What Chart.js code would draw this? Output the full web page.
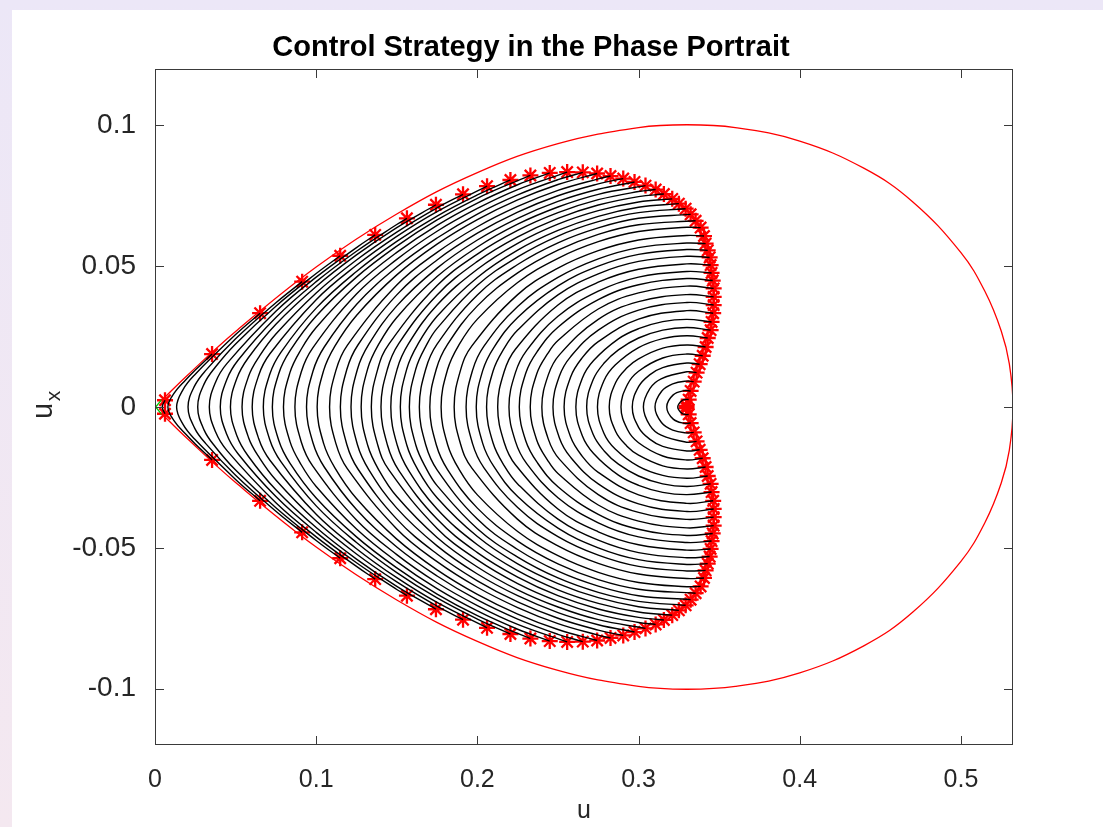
<!DOCTYPE html>
<html>
<head>
<meta charset="utf-8">
<script src="https://cdn.jsdelivr.net/npm/chart.js@4.4.0/dist/chart.umd.min.js"></script>
<style>
  html, body { margin: 0; padding: 0; }
  body { width: 1103px; height: 827px; overflow: hidden; background: linear-gradient(#ece7f7, #f4e8f0); }
  #sheet { position: absolute; left: 12px; top: 10px; width: 1091px; height: 817px; background: #fff; }
  #wrap { position: absolute; left: 0; top: 0; width: 1103px; height: 827px; }
</style>
</head>
<body>
<div id="sheet"></div>
<div id="wrap"><canvas id="phaseChart" width="1103" height="827"></canvas></div>
<script>
// axis ticks
const xTicks = [0, 0.1, 0.2, 0.3, 0.4, 0.5];
const xTickLabels = ['0', '0.1', '0.2', '0.3', '0.4', '0.5'];
const yTicks = [-0.1, -0.05, 0, 0.05, 0.1];
const yTickLabels = ['-0.1', '-0.05', '0', '0.05', '0.1'];

// outer orbit (upper half), u and u_x
const outerU  = [0.004, 0.02, 0.05, 0.1, 0.15, 0.2, 0.25, 0.3, 0.33, 0.36, 0.4, 0.44, 0.47, 0.5, 0.515, 0.525, 0.53, 0.5323];
const outerUx = [0.0023, 0.0112, 0.0268, 0.0497, 0.0685, 0.0832, 0.0935, 0.0992, 0.1002, 0.0992, 0.0944, 0.0847, 0.0729, 0.0548, 0.0409, 0.027, 0.0154, 0];

// switching points (upper half); orbit k ends at point k
const switchU  = [0.0062, 0.0354, 0.0652, 0.0913, 0.1149, 0.1366, 0.1563, 0.1743, 0.1911, 0.2060,
                  0.2205, 0.2329, 0.2449, 0.2557, 0.2654, 0.2743, 0.2826, 0.2905, 0.2975, 0.3043,
                  0.3106, 0.3157, 0.3209, 0.3250, 0.3292, 0.3323, 0.3354, 0.3385, 0.3406, 0.3416,
                  0.3429, 0.3441, 0.3447, 0.3453, 0.3460, 0.3466, 0.3466, 0.3466, 0.3463, 0.3453,
                  0.3447, 0.3429, 0.3416, 0.3398, 0.3379, 0.3360, 0.3342, 0.3323, 0.3311, 0.3298];
const switchUx = [0.0024, 0.0188, 0.0333, 0.0445, 0.0537, 0.0611, 0.0670, 0.0718, 0.0755, 0.0784,
                  0.0806, 0.0822, 0.0831, 0.0834, 0.0833, 0.0829, 0.0820, 0.0811, 0.0799, 0.0786,
                  0.0772, 0.0756, 0.0739, 0.0722, 0.0704, 0.0684, 0.0661, 0.0637, 0.0607, 0.0580,
                  0.0556, 0.0531, 0.0504, 0.0476, 0.0449, 0.0421, 0.0391, 0.0362, 0.0333, 0.0302,
                  0.0273, 0.0245, 0.0213, 0.0182, 0.0152, 0.0122, 0.0090, 0.0057, 0.0026, 0.0004];

// where each orbit crosses u_x = 0 on the left
const arcTipU = [0.0045, 0.0080, 0.0134, 0.0205, 0.0265, 0.0337, 0.0405, 0.0468, 0.0540, 0.0603,
                 0.0672, 0.0728, 0.0797, 0.0868, 0.0940, 0.1006, 0.1083, 0.1150, 0.1216, 0.1279,
                 0.1342, 0.1402, 0.1463, 0.1522, 0.1578, 0.1640, 0.1705, 0.1775, 0.1856, 0.1930,
                 0.1993, 0.2057, 0.2126, 0.2196, 0.2260, 0.2328, 0.2400, 0.2469, 0.2538, 0.2611,
                 0.2678, 0.2745, 0.2818, 0.2891, 0.2961, 0.3030, 0.3102, 0.3175, 0.3243];

// upper points [u, u_x] of each orbit between its tip and its switching point
const arcCrossings = [
  [],
  [[0.012, 0.0050], [0.019, 0.0096], [0.025, 0.0131]],
  [[0.0174, 0.0062], [0.0244, 0.0113], [0.05, 0.0257]],
  [[0.0245, 0.0074], [0.0315, 0.0130], [0.05, 0.0242], [0.075, 0.0370]],
  [[0.0305, 0.0082], [0.0375, 0.0142], [0.05, 0.0224], [0.075, 0.0358], [0.1, 0.0474]],
  [[0.0377, 0.0090], [0.0447, 0.0155], [0.075, 0.0340], [0.1, 0.0461], [0.125, 0.0566]],
  [[0.0445, 0.0097], [0.0515, 0.0166], [0.075, 0.0318], [0.1, 0.0445], [0.125, 0.0553], [0.15, 0.0648]],
  [[0.0508, 0.0102], [0.0578, 0.0174], [0.075, 0.0294], [0.1, 0.0428], [0.125, 0.0540], [0.15, 0.0637]],
  [[0.058, 0.0108], [0.065, 0.0182], [0.075, 0.0259], [0.1, 0.0405], [0.125, 0.0522], [0.15, 0.0621], [0.175, 0.0707]],
  [[0.0643, 0.0112], [0.0713, 0.0189], [0.1, 0.0381], [0.125, 0.0503], [0.15, 0.0606], [0.175, 0.0694]],
  [[0.0712, 0.0116], [0.0782, 0.0195], [0.1, 0.0351], [0.125, 0.0481], [0.15, 0.0588], [0.175, 0.0678], [0.2, 0.0753]],
  [[0.0768, 0.0119], [0.0838, 0.0200], [0.1, 0.0323], [0.125, 0.0461], [0.15, 0.0571], [0.175, 0.0664], [0.2, 0.0741], [0.225, 0.0804]],
  [[0.0837, 0.0122], [0.0907, 0.0205], [0.1, 0.0282], [0.125, 0.0433], [0.15, 0.0549], [0.175, 0.0645], [0.2, 0.0724], [0.225, 0.0789]],
  [[0.0908, 0.0125], [0.0978, 0.0209], [0.125, 0.0401], [0.15, 0.0524], [0.175, 0.0624], [0.2, 0.0705], [0.225, 0.0772]],
  [[0.098, 0.0127], [0.105, 0.0213], [0.125, 0.0364], [0.15, 0.0497], [0.175, 0.0600], [0.2, 0.0685], [0.225, 0.0753], [0.25, 0.0807]],
  [[0.1046, 0.0129], [0.1116, 0.0216], [0.125, 0.0325], [0.15, 0.0469], [0.175, 0.0578], [0.2, 0.0665], [0.225, 0.0735], [0.25, 0.0790]],
  [[0.1123, 0.0131], [0.1193, 0.0219], [0.15, 0.0433], [0.175, 0.0549], [0.2, 0.0640], [0.225, 0.0712], [0.25, 0.0769], [0.275, 0.0810]],
  [[0.119, 0.0133], [0.126, 0.0221], [0.15, 0.0398], [0.175, 0.0522], [0.2, 0.0617], [0.225, 0.0692], [0.25, 0.0750], [0.275, 0.0792]],
  [[0.1256, 0.0134], [0.1326, 0.0222], [0.15, 0.0359], [0.175, 0.0493], [0.2, 0.0593], [0.225, 0.0670], [0.25, 0.0730], [0.275, 0.0773]],
  [[0.1319, 0.0135], [0.1389, 0.0224], [0.15, 0.0318], [0.175, 0.0463], [0.2, 0.0568], [0.225, 0.0649], [0.25, 0.0710], [0.275, 0.0755]],
  [[0.1382, 0.0135], [0.1452, 0.0224], [0.175, 0.0431], [0.2, 0.0543], [0.225, 0.0627], [0.25, 0.0690], [0.275, 0.0736], [0.3, 0.0765]],
  [[0.1442, 0.0135], [0.1512, 0.0225], [0.175, 0.0398], [0.2, 0.0517], [0.225, 0.0604], [0.25, 0.0670], [0.275, 0.0717], [0.3, 0.0747]],
  [[0.1503, 0.0136], [0.1573, 0.0225], [0.175, 0.0362], [0.2, 0.0489], [0.225, 0.0581], [0.25, 0.0649], [0.275, 0.0697], [0.3, 0.0728]],
  [[0.1562, 0.0135], [0.1632, 0.0224], [0.175, 0.0322], [0.2, 0.0460], [0.225, 0.0557], [0.25, 0.0627], [0.275, 0.0677], [0.3, 0.0709]],
  [[0.1618, 0.0135], [0.1688, 0.0224], [0.175, 0.0279], [0.2, 0.0432], [0.225, 0.0533], [0.25, 0.0607], [0.275, 0.0658], [0.3, 0.0690]],
  [[0.168, 0.0135], [0.175, 0.0223], [0.2, 0.0398], [0.225, 0.0506], [0.25, 0.0583], [0.275, 0.0636], [0.3, 0.0670]],
  [[0.1745, 0.0134], [0.1815, 0.0222], [0.2, 0.0359], [0.225, 0.0476], [0.25, 0.0557], [0.275, 0.0613], [0.3, 0.0647]],
  [[0.1815, 0.0133], [0.1885, 0.0220], [0.2, 0.0312], [0.225, 0.0442], [0.25, 0.0528], [0.275, 0.0587], [0.3, 0.0623], [0.33, 0.0638]],
  [[0.1896, 0.0132], [0.1966, 0.0217], [0.225, 0.0399], [0.25, 0.0493], [0.275, 0.0555], [0.3, 0.0593], [0.33, 0.0609]],
  [[0.197, 0.0130], [0.204, 0.0215], [0.225, 0.0357], [0.25, 0.0460], [0.275, 0.0526], [0.3, 0.0566], [0.33, 0.0582]],
  [[0.2033, 0.0129], [0.2103, 0.0212], [0.225, 0.0318], [0.25, 0.0430], [0.275, 0.0500], [0.3, 0.0542], [0.33, 0.0559]],
  [[0.2097, 0.0127], [0.2167, 0.0209], [0.225, 0.0273], [0.25, 0.0398], [0.275, 0.0473], [0.3, 0.0517], [0.33, 0.0535]],
  [[0.2166, 0.0125], [0.2236, 0.0205], [0.25, 0.0362], [0.275, 0.0443], [0.3, 0.0489], [0.33, 0.0508]],
  [[0.2236, 0.0122], [0.2306, 0.0201], [0.25, 0.0322], [0.275, 0.0411], [0.3, 0.0461], [0.33, 0.0481]],
  [[0.23, 0.0120], [0.237, 0.0196], [0.25, 0.0283], [0.275, 0.0381], [0.3, 0.0434], [0.33, 0.0456]],
  [[0.2368, 0.0117], [0.2438, 0.0191], [0.25, 0.0236], [0.275, 0.0348], [0.3, 0.0405], [0.33, 0.0429]],
  [[0.244, 0.0114], [0.251, 0.0186], [0.275, 0.0311], [0.3, 0.0374], [0.33, 0.0399]],
  [[0.2509, 0.0110], [0.2579, 0.0179], [0.275, 0.0273], [0.3, 0.0344], [0.33, 0.0371]],
  [[0.2578, 0.0106], [0.2648, 0.0173], [0.275, 0.0232], [0.3, 0.0312], [0.33, 0.0342]],
  [[0.2651, 0.0102], [0.2721, 0.0165], [0.2875, 0.0242], [0.3, 0.0278], [0.315, 0.0303], [0.33, 0.0311]],
  [[0.2718, 0.0097], [0.2788, 0.0157], [0.2875, 0.0203], [0.3, 0.0245], [0.315, 0.0273], [0.33, 0.0282]],
  [[0.2785, 0.0093], [0.2855, 0.0149], [0.3, 0.0211], [0.315, 0.0243], [0.33, 0.0253]],
  [[0.2858, 0.0087], [0.2928, 0.0139], [0.3, 0.0171], [0.315, 0.0209], [0.33, 0.0220]],
  [[0.2931, 0.0080], [0.3, 0.0127], [0.315, 0.0174], [0.33, 0.0188]],
  [[0.3001, 0.0073], [0.3071, 0.0115], [0.315, 0.0140], [0.33, 0.0156]],
  [[0.307, 0.0065], [0.314, 0.0100], [0.33, 0.0125]],
  [[0.3142, 0.0055], [0.3212, 0.0082], [0.33, 0.0092]],
  [[0.3215, 0.0043], [0.3285, 0.0058]],
  [[0.327, 0.0023], [0.33, 0.0027]]
];

// initial path near the saddle
const startU  = [0.0043, 0.0004, 0.0043];
const startUx = [0.0027, 0, -0.0027];

// closed curve from the upper half and its mirror
function mirrored(us, uxs) {
  const pts = us.map((u, i) => ({ x: u, y: uxs[i] }));
  for (let i = us.length - 2; i >= 0; i--) pts.push({ x: us[i], y: -uxs[i] });
  return pts;
}

// one orbit arc: upper switching point -> left tip -> lower switching point
function arcPoints(k) {
  const upper = arcCrossings[k];
  const pts = [{ x: switchU[k], y: switchUx[k] }];
  for (let j = upper.length - 1; j >= 0; j--) pts.push({ x: upper[j][0], y: upper[j][1] });
  pts.push({ x: arcTipU[k], y: 0 });
  for (let j = 0; j < upper.length; j++) pts.push({ x: upper[j][0], y: -upper[j][1] });
  pts.push({ x: switchU[k], y: -switchUx[k] });
  return pts;
}

const switchPts = [];
switchU.forEach((u, i) => {
  switchPts.push({ x: u, y: switchUx[i] });
  switchPts.push({ x: u, y: -switchUx[i] });
});

const arcSets = arcTipU.map((u, k) => ({
  label: 'orbit ' + (k + 1),
  data: arcPoints(k),
  showLine: true,
  borderColor: '#000000',
  borderWidth: 1.4,
  pointRadius: 0,
  tension: 0.4
}));

const fontFamily = '"Liberation Sans", Arial, Helvetica, sans-serif';

// x labels use the narrow face when it is installed
const probe = document.createElement('canvas').getContext('2d');
probe.font = '30px "Liberation Sans Narrow", serif';
const narrowW = probe.measureText('0.123456789').width;
probe.font = '30px serif';
const hasNarrow = Math.abs(narrowW - probe.measureText('0.123456789').width) > 0.5;
const xFont = hasNarrow
  ? { family: '"Liberation Sans Narrow", ' + fontFamily, size: 30 }
  : { family: fontFamily, size: 25 };

// box with inward ticks, title and y label
const axesBox = {
  id: 'axesBox',
  afterDatasetsDraw(chart) {
    const { ctx, chartArea: a, scales } = chart;
    ctx.save();
    ctx.strokeStyle = '#3a3a3a';
    ctx.lineWidth = 1;
    ctx.strokeRect(a.left + 0.5, a.top + 0.5, a.right - a.left - 1, a.bottom - a.top - 1);
    const len = 9;
    ctx.beginPath();
    xTicks.forEach(v => {
      const px = Math.round(scales.x.getPixelForValue(v)) + 0.5;
      ctx.moveTo(px, a.bottom); ctx.lineTo(px, a.bottom - len);
      ctx.moveTo(px, a.top); ctx.lineTo(px, a.top + len);
    });
    yTicks.forEach(v => {
      const py = Math.round(scales.y.getPixelForValue(v)) + 0.5;
      ctx.moveTo(a.left, py); ctx.lineTo(a.left + len, py);
      ctx.moveTo(a.right, py); ctx.lineTo(a.right - len, py);
    });
    ctx.stroke();

    ctx.fillStyle = '#000';
    ctx.font = 'bold 29px ' + fontFamily;
    ctx.textAlign = 'center';
    ctx.textBaseline = 'alphabetic';
    ctx.fillText('Control Strategy in the Phase Portrait', 531, 56);

    ctx.fillStyle = '#262626';
    ctx.translate(52, 408);
    ctx.rotate(-Math.PI / 2);
    ctx.font = '29px ' + fontFamily;
    ctx.textAlign = 'center';
    ctx.fillText('u', -3, 0);
    ctx.font = '21px ' + fontFamily;
    ctx.fillText('x', 12, 8);
    ctx.restore();
  }
};

new Chart(document.getElementById('phaseChart'), {
  type: 'scatter',
  data: {
    datasets: [
      ...arcSets,
      {
        label: 'outer orbit',
        data: mirrored(outerU, outerUx),
        showLine: true,
        borderColor: '#ff0000',
        borderWidth: 1.3,
        pointRadius: 0,
        tension: 0.4
      },
      {
        label: 'start',
        data: startU.map((u, i) => ({ x: u, y: startUx[i] })),
        showLine: true,
        borderColor: '#00c000',
        borderWidth: 1.3,
        pointRadius: 0
      },
      {
        label: 'switching points',
        data: switchPts,
        showLine: false,
        pointStyle: 'star',
        pointRadius: 8,
        borderColor: '#ff0000',
        borderWidth: 2.3
      }
    ]
  },
  options: {
    responsive: false,
    animation: false,
    devicePixelRatio: 1,
    layout: { padding: { left: 0, top: 69, right: 90, bottom: 0 } },
    plugins: {
      legend: { display: false },
      tooltip: { enabled: false },
      title: { display: false }
    },
    scales: {
      x: {
        type: 'linear',
        min: 0,
        max: 0.5323,
        afterBuildTicks: s => { s.ticks = xTicks.map(v => ({ value: v })); },
        afterFit: s => { s.height = 82; },
        grid: { display: false },
        border: { display: false },
        ticks: {
          color: '#262626',
          font: xFont,
          padding: 12,
          maxRotation: 0,
          autoSkip: false,
          callback: (v, i) => xTickLabels[i]
        },
        title: {
          display: true,
          text: 'u',
          color: '#262626',
          font: xFont,
          padding: { top: 0, bottom: 1 }
        }
      },
      y: {
        type: 'linear',
        min: -0.12,
        max: 0.12,
        afterBuildTicks: s => { s.ticks = yTicks.map(v => ({ value: v })); },
        afterFit: s => { s.width = 155; },
        grid: { display: false },
        border: { display: false },
        ticks: {
          color: '#262626',
          font: { family: fontFamily, size: 28 },
          padding: 11,
          autoSkip: false,
          callback: (v, i) => yTickLabels[i]
        }
      }
    }
  },
  plugins: [axesBox]
});
</script>
</body>
</html>
